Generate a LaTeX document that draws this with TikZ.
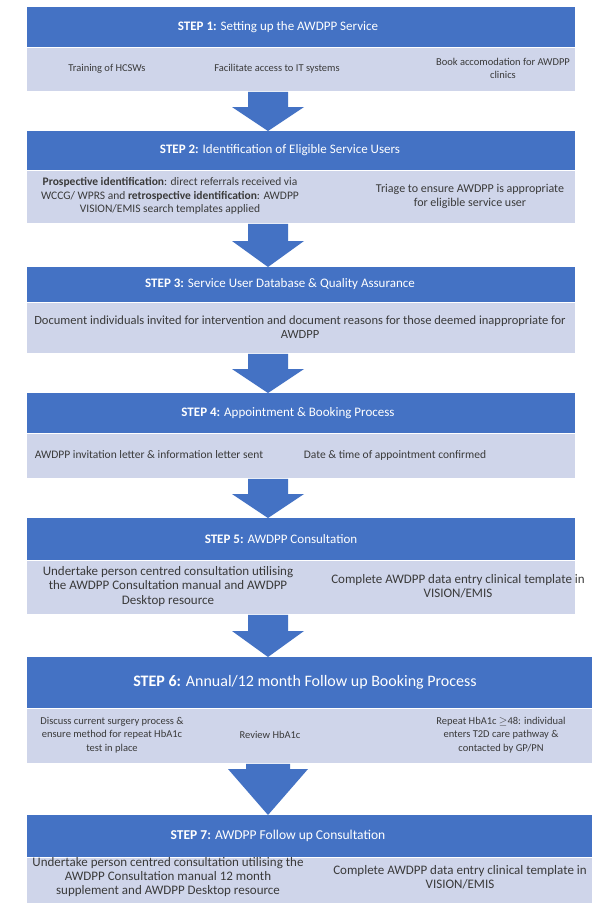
\documentclass[tikz,border=0pt]{standalone}
\usepackage{fontspec}
\setmainfont{Carlito}
\usetikzlibrary{calc}

\definecolor{stepblue}{HTML}{4472C4}
\definecolor{subfill}{HTML}{CFD5EA}
\definecolor{subtext}{HTML}{3A3A3A}

\tikzset{
  header/.style={fill=stepblue, anchor=north west, minimum width=548pt, inner sep=0pt},
  wideheader/.style={header, minimum width=565pt},
  subbox/.style={fill=subfill, anchor=north west, minimum width=548pt, inner sep=0pt},
  widesubbox/.style={subbox, minimum width=565pt},
  headtxt/.style={text=white, inner sep=0pt, font=\fontsize{13}{16}\selectfont},
  subtxt/.style={text=subtext, align=center, inner sep=0pt},
  arrowfill/.style={fill=stepblue},
}
\newcommand\fs[2]{\fontsize{#1}{#2}\selectfont}

% block arrow from the bottom of one box to the top of the next
% #1 source node, #2 target node, #3 shaft half width, #4 head half width,
% #5 head length, #6 x position of the arrow axis
\newcommand\flowarrow[6]{%
  \fill[arrowfill] let \p1=(#1.south), \p2=(#2.north) in
    (#6-#3,\y1-1pt) -- (#6-#3,\y2+#5) -- (#6-#4,\y2+#5) -- (#6,\y2)
    -- (#6+#4,\y2+#5) -- (#6+#3,\y2+#5) -- (#6+#3,\y1-1pt) -- cycle;}

\begin{document}
\begin{tikzpicture}[x=1pt,y=-1pt]
\useasboundingbox[fill=white] (0,0) rectangle (600,903);

% STEP 1
\node[header, minimum height=40pt] (h1) at (27,7) {};
\node[headtxt] (l1) at (278,27) {\textbf{STEP 1:} Setting up the AWDPP Service};
\node[subbox, minimum height=43pt] (s1) at (h1.south west) {};
\node[subtxt, font=\fs{10.5}{12.5}] (t1a) at (107,68.5) {Training of HCSWs};
\node[subtxt, font=\fs{10.5}{12.5}] (t1b) at (277,68.5) {Facilitate access to IT systems};
\node[subtxt, font=\fs{10.5}{12.5}] (t1c) at (503,68.5) {Book accomodation for AWDPP\\clinics};

% STEP 2
\node[header, minimum height=39pt] (h2) at (27,131) {};
\node[headtxt] (l2) at (280,150.5) {\textbf{STEP 2:} Identification of Eligible Service Users};
\node[subbox, minimum height=52pt] (s2) at (h2.south west) {};
\node[subtxt, font=\fs{11.5}{13.5}] (t2a) at (170,196) {\textbf{Prospective identification}: direct referrals received via\\WCCG/ WPRS and \textbf{retrospective identification}: AWDPP\\VISION/EMIS search templates applied};
\node[subtxt, font=\fs{12}{14}] (t2b) at (470,196) {Triage to ensure AWDPP is appropriate\\for eligible service user};

% STEP 3
\node[header, minimum height=35pt] (h3) at (27,267) {};
\node[headtxt] (l3) at (280,284.5) {\textbf{STEP 3:} Service User Database \& Quality Assurance};
\node[subbox, minimum height=50pt] (s3) at (h3.south west) {};
\node[subtxt, font=\fs{12.5}{14}] (t3a) at (300,327) {Document individuals invited for intervention and document reasons for those deemed inappropriate for\\AWDPP};

% STEP 4
\node[header, minimum height=40pt] (h4) at (27,393) {};
\node[headtxt] (l4) at (288,413) {\textbf{STEP 4:} Appointment \& Booking Process};
\node[subbox, minimum height=44pt] (s4) at (h4.south west) {};
\node[subtxt, font=\fs{11.5}{13.5}] (t4a) at (149,455) {AWDPP invitation letter \& information letter sent};
\node[subtxt, font=\fs{11.5}{13.5}] (t4b) at (395,455) {Date \& time of appointment confirmed};

% STEP 5
\node[header, minimum height=42pt] (h5) at (27,518) {};
\node[headtxt] (l5) at (281,539) {\textbf{STEP 5:} AWDPP Consultation};
\node[subbox, minimum height=53pt] (s5) at (h5.south west) {};
\node[subtxt, font=\fs{13}{14.5}] (t5a) at (168,586.5) {Undertake person centred consultation utilising\\the AWDPP Consultation manual and AWDPP\\Desktop resource};
\node[subtxt, font=\fs{13}{14.5}] (t5b) at (458,586.5) {Complete AWDPP data entry clinical template in\\VISION/EMIS};

% STEP 6
\node[wideheader, minimum height=51pt] (h6) at (27,657) {};
\node[headtxt, font=\fs{16}{19}] (l6) at (305,682.5) {\textbf{STEP 6:} Annual/12 month Follow up Booking Process};
\node[widesubbox, minimum height=54pt] (s6) at (h6.south west) {};
\node[subtxt, font=\fs{10.5}{13.5}] (t6a) at (112,735) {Discuss current surgery process \&\\ensure method for repeat HbA1c\\test in place};
\node[subtxt, font=\fs{10.5}{13.5}] (t6b) at (270,735) {Review HbA1c};
\node[subtxt, font=\fs{10.5}{13.5}] (t6c) at (501,735) {Repeat HbA1c \ensuremath{\geq}48: individual\\enters T2D care pathway \&\\contacted by GP/PN};

% STEP 7
\node[wideheader, minimum height=42pt] (h7) at (27,815) {};
\node[headtxt, font=\fs{13.5}{16}] (l7) at (278,836) {\textbf{STEP 7:} AWDPP Follow up Consultation};
\node[widesubbox, minimum height=46pt] (s7) at (h7.south west) {};
\node[subtxt, font=\fs{13}{14}] (t7a) at (168,877) {Undertake person centred consultation utilising the\\AWDPP Consultation manual 12 month\\supplement and AWDPP Desktop resource};
\node[subtxt, font=\fs{13}{14}] (t7b) at (460,877) {Complete AWDPP data entry clinical template in\\VISION/EMIS};

% arrows between the steps
\flowarrow{s1}{h2}{20pt}{36pt}{24pt}{268pt}
\flowarrow{s2}{h3}{20pt}{36pt}{26pt}{268pt}
\flowarrow{s3}{h4}{20pt}{36pt}{24pt}{268pt}
\flowarrow{s4}{h5}{20pt}{36pt}{24pt}{268pt}
\flowarrow{s5}{h6}{20pt}{36pt}{26pt}{268pt}
\flowarrow{s6}{h7}{22pt}{40pt}{46pt}{268pt}
\end{tikzpicture}
\end{document}
